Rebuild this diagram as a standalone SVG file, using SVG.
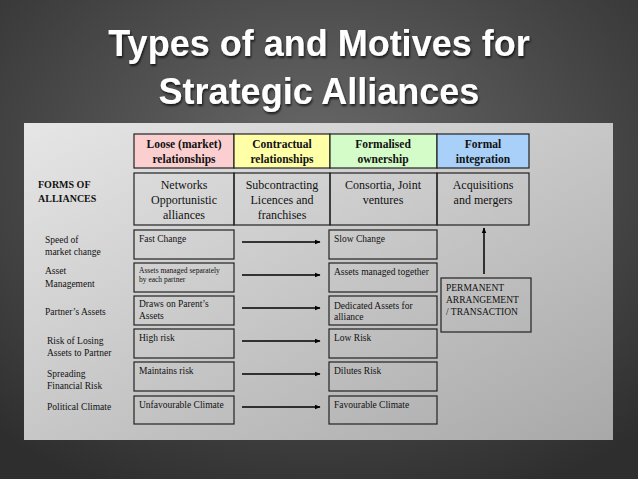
<svg xmlns="http://www.w3.org/2000/svg" width="638" height="479" viewBox="0 0 638 479">
<defs>
<radialGradient id="bg" cx="50%" cy="35%" r="75%"><stop offset="0" stop-color="#6a6a6a"/><stop offset="1" stop-color="#2e2e2e"/></radialGradient>
<linearGradient id="pn" x1="0" y1="0" x2="1" y2="1"><stop offset="0" stop-color="#e6e6e6"/><stop offset="1" stop-color="#a8a8a8"/></linearGradient>
<marker id="ah" viewBox="0 0 10 10" refX="9" refY="5" markerWidth="4" markerHeight="4" orient="auto"><path d="M0,1 L10,5 L0,9 z" fill="#000"/></marker>
<filter id="sh"><feDropShadow dx="1" dy="2" stdDeviation="1" flood-color="#000" flood-opacity="0.7"/></filter>
</defs>
<style>
.b{fill:none;stroke:#222;stroke-width:1.2}
.t{font-family:"Liberation Serif",serif;fill:#111}
.h{font-family:"Liberation Serif",serif;font-weight:bold;font-size:11.5px;fill:#111;text-anchor:middle}
.m{font-size:12px;text-anchor:middle}
.s{font-size:9.5px}
.l{font-size:9.5px}
.c{stroke:#000;stroke-width:1.5;marker-end:url(#ah)}
</style>
<rect width="638" height="479" fill="url(#bg)"/>
<g filter="url(#sh)" font-family="Liberation Sans,Arial,sans-serif" font-weight="bold" font-size="36" fill="#fff" text-anchor="middle">
<text x="319" y="56">Types of and Motives for</text>
<text x="319" y="104">Strategic Alliances</text>
</g>
<rect x="24" y="123" width="589" height="317" fill="url(#pn)"/>
<g id="headers">
<rect x="134" y="134" width="100" height="34" style="fill:#fbcfcf" class="b"/>
<rect x="234" y="134" width="96" height="34" style="fill:#ffffa8" class="b"/>
<rect x="330" y="134" width="107" height="34" style="fill:#d4fcc8" class="b"/>
<rect x="437" y="134" width="92" height="34" style="fill:#a8d0f8" class="b"/>
<text class="h" x="184" y="148">Loose (market)</text><text class="h" x="184" y="163">relationships</text>
<text class="h" x="282" y="148">Contractual</text><text class="h" x="282" y="163">relationships</text>
<text class="h" x="383" y="148">Formalised</text><text class="h" x="383" y="163">ownership</text>
<text class="h" x="483" y="148">Formal</text><text class="h" x="483" y="163">integration</text>
</g>
<g id="forms">
<rect x="134" y="173" width="100" height="52" class="b"/>
<rect x="234" y="173" width="96" height="52" class="b"/>
<rect x="330" y="173" width="107" height="52" class="b"/>
<rect x="437" y="173" width="92" height="52" class="b"/>
<text class="t m" x="184" y="189">Networks</text><text class="t m" x="184" y="204">Opportunistic</text><text class="t m" x="184" y="219">alliances</text>
<text class="t m" x="282" y="189">Subcontracting</text><text class="t m" x="282" y="204">Licences and</text><text class="t m" x="282" y="219">franchises</text>
<text class="t m" x="383" y="189">Consortia, Joint</text><text class="t m" x="383" y="204">ventures</text>
<text class="t m" x="483" y="189">Acquisitions</text><text class="t m" x="483" y="204">and mergers</text>
</g>
<g id="labels" class="t l">
<text x="38" y="188" font-weight="bold" font-size="10">FORMS OF</text><text x="38" y="202" font-weight="bold" font-size="10">ALLIANCES</text>
<text x="45" y="243">Speed of</text><text x="45" y="255">market change</text>
<text x="45" y="274">Asset</text><text x="45" y="287">Management</text>
<text x="45" y="315">Partner’s Assets</text>
<text x="47" y="344">Risk of Losing</text><text x="47" y="356">Assets to Partner</text>
<text x="47" y="377">Spreading</text><text x="47" y="389">Financial Risk</text>
<text x="47" y="410">Political Climate</text>
</g>
<g id="left" class="t s">
<rect x="134" y="230" width="100" height="29" class="b"/><text x="139" y="242">Fast Change</text>
<rect x="134" y="263" width="100" height="29" class="b"/><text x="139" y="273" font-size="7.5">Assets managed separately</text><text x="139" y="282" font-size="7.5">by each partner</text>
<rect x="134" y="296" width="100" height="29" class="b"/><text x="139" y="307">Draws on Parent’s</text><text x="139" y="319">Assets</text>
<rect x="134" y="329" width="100" height="29" class="b"/><text x="139" y="341">High risk</text>
<rect x="134" y="362" width="100" height="29" class="b"/><text x="139" y="374">Maintains risk</text>
<rect x="134" y="396" width="100" height="28" class="b"/><text x="139" y="408">Unfavourable Climate</text>
</g>
<g id="right" class="t s">
<rect x="329" y="230" width="108" height="29" class="b"/><text x="334" y="242">Slow Change</text>
<rect x="329" y="263" width="108" height="29" class="b"/><text x="334" y="275">Assets managed together</text>
<rect x="329" y="296" width="108" height="29" class="b"/><text x="334" y="309">Dedicated Assets for</text><text x="334" y="320">alliance</text>
<rect x="329" y="329" width="108" height="29" class="b"/><text x="334" y="341">Low Risk</text>
<rect x="329" y="362" width="108" height="29" class="b"/><text x="334" y="374">Dilutes Risk</text>
<rect x="329" y="396" width="108" height="28" class="b"/><text x="334" y="408">Favourable Climate</text>
</g>
<g id="permanent" class="t s">
<rect x="441" y="278" width="90" height="54" class="b"/>
<text x="446" y="291">PERMANENT</text><text x="446" y="303">ARRANGEMENT</text><text x="446" y="315">/ TRANSACTION</text>
</g>
<g id="connectors">
<line class="c" x1="242" y1="242" x2="320" y2="242"/>
<line class="c" x1="242" y1="275" x2="320" y2="275"/>
<line class="c" x1="242" y1="308" x2="320" y2="308"/>
<line class="c" x1="242" y1="341" x2="320" y2="341"/>
<line class="c" x1="242" y1="374" x2="320" y2="374"/>
<line class="c" x1="242" y1="407" x2="320" y2="407"/>
<line class="c" x1="484" y1="274" x2="484" y2="228"/>
</g>
</svg>
